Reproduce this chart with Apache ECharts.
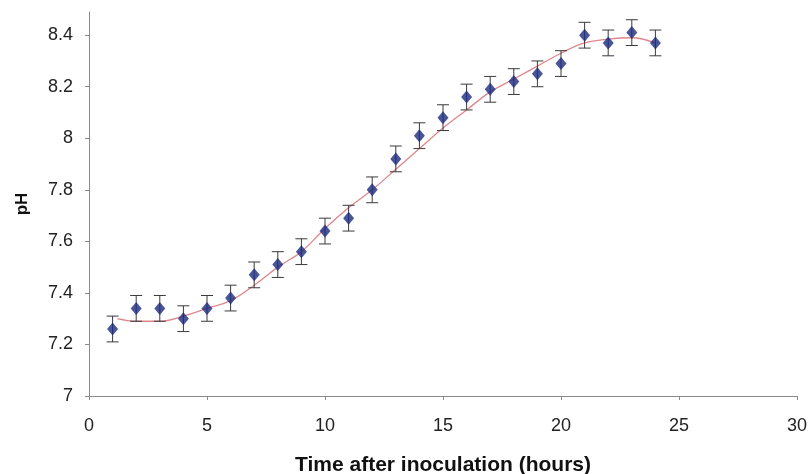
<!DOCTYPE html>
<html>
<head>
<meta charset="utf-8">
<script src="https://cdn.jsdelivr.net/npm/echarts@6/dist/echarts.min.js"></script>
<style>html,body{margin:0;padding:0;background:#fff;}#chart{width:812px;height:474px;}</style>
</head>
<body>
<div id="chart"></div>
<script>
var hours = [1,2,3,4,5,6,7,8,9,10,11,12,13,14,15,16,17,18,19,20,21,22,23,24];
var phValues = [7.26,7.34,7.34,7.30,7.34,7.38,7.47,7.51,7.56,7.64,7.69,7.80,7.92,8.01,8.08,8.16,8.19,8.22,8.25,8.29,8.40,8.37,8.41,8.37];
var phErrors = [0.05,0.05,0.05,0.05,0.05,0.05,0.05,0.05,0.05,0.05,0.05,0.05,0.05,0.05,0.05,0.05,0.05,0.05,0.05,0.05,0.05,0.05,0.05,0.05];
var fitHours = [1.2,2,3,4,5,6,7,8,9,10,11,12,13,14,15,16,17,18,19,20,21,22,23,24];
var fitValues = [7.30,7.29,7.29,7.31,7.34,7.37,7.43,7.50,7.56,7.65,7.73,7.80,7.88,7.96,8.04,8.11,8.18,8.23,8.28,8.33,8.37,8.385,8.39,8.37];
var xTicks = [0,5,10,15,20,25,30];
var yTicks = [7,7.2,7.4,7.6,7.8,8,8.2,8.4];

var chart = echarts.init(document.getElementById('chart'));
var points = hours.map(function(h,i){return [h, phValues[i]];});
var errData = hours.map(function(h,i){return [h, phValues[i]-phErrors[i], phValues[i]+phErrors[i]];});
var fitData = fitHours.map(function(h,i){return [h, fitValues[i]];});
var font = '"Liberation Sans", Arial, sans-serif';

chart.setOption({
  animation: false,
  backgroundColor: '#ffffff',
  grid: {left: 89, right: 15, top: 12, bottom: 78, containLabel: false, outerBoundsMode: 'none'},
  xAxis: {
    type: 'value', min: 0, max: 30, interval: 5,
    name: 'Time after inoculation (hours)', nameLocation: 'middle', nameGap: 59,
    nameTextStyle: {fontFamily: font, fontSize: 21, fontWeight: 'bold', color: '#111', verticalAlign: 'top'},
    axisLine: {show: true, lineStyle: {color: '#8a8a8a', width: 1}},
    axisTick: {show: true, inside: false, length: 4, lineStyle: {color: '#8a8a8a'}},
    axisLabel: {fontFamily: font, fontSize: 18, color: '#222', margin: 21,
      formatter: function(v){ return xTicks.indexOf(v) >= 0 ? String(v) : ''; }},
    splitLine: {show: false}
  },
  yAxis: {
    type: 'value', min: 7, max: 8.49, interval: 0.2,
    name: 'pH', nameLocation: 'middle', nameGap: 58, nameRotate: 90,
    nameTextStyle: {fontFamily: font, fontSize: 17, fontWeight: 'bold', color: '#111'},
    axisLine: {show: true, lineStyle: {color: '#8a8a8a', width: 1}},
    axisTick: {show: true, inside: false, length: 4, lineStyle: {color: '#8a8a8a'}},
    axisLabel: {fontFamily: font, fontSize: 18, color: '#222', margin: 16, showMaxLabel: false,
      formatter: function(v){
        for (var i=0;i<yTicks.length;i++){ if (Math.abs(yTicks[i]-v) < 1e-6) return String(yTicks[i]); }
        return '';
      }},
    splitLine: {show: false}
  },
  series: [
    {
      type: 'line', data: fitData, smooth: 0.4, showSymbol: false, symbol: 'none',
      lineStyle: {color: '#e0868c', width: 1.3}, z: 2
    },
    {
      type: 'custom', data: errData, z: 3,
      encode: {x: 0, y: [1, 2]},
      renderItem: function(params, api){
        var x = api.value(0);
        var lo = api.coord([x, api.value(1)]);
        var hi = api.coord([x, api.value(2)]);
        var hw = 6;
        var st = {stroke: '#3a3a3a', lineWidth: 1};
        return {type: 'group', children: [
          {type: 'line', shape: {x1: lo[0], y1: lo[1], x2: hi[0], y2: hi[1]}, style: st},
          {type: 'line', shape: {x1: lo[0]-hw, y1: lo[1], x2: lo[0]+hw, y2: lo[1]}, style: st},
          {type: 'line', shape: {x1: hi[0]-hw, y1: hi[1], x2: hi[0]+hw, y2: hi[1]}, style: st}
        ]};
      }
    },
    {
      type: 'scatter', data: points, symbol: 'diamond', symbolSize: [11, 13],
      itemStyle: {color: '#1c2a80'}, z: 4
    }
  ]
});
</script>
</body>
</html>
